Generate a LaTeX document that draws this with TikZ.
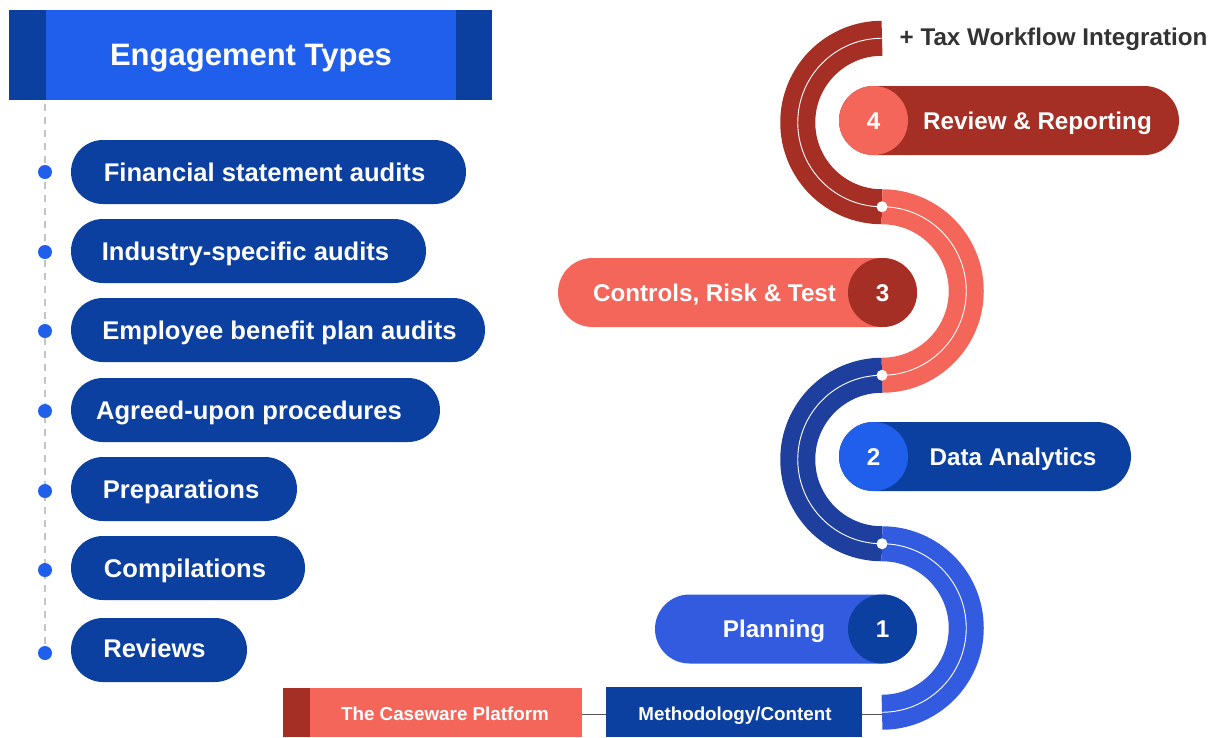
\documentclass[tikz,border=0pt]{standalone}
\usepackage{fontspec}
\setmainfont{Liberation Sans}
\definecolor{navy}{HTML}{0B40A0}
\definecolor{brightblue}{HTML}{1F5FEB}
\definecolor{snakenavy}{HTML}{1E3F9E}
\definecolor{midblue}{HTML}{325BE0}
\definecolor{darkred}{HTML}{A52F25}
\definecolor{salmon}{HTML}{F4655A}
\definecolor{ink}{HTML}{333333}
\definecolor{dashgray}{HTML}{C4C4C4}
\definecolor{linkgray}{HTML}{555555}
\begin{document}
\begin{tikzpicture}[x=1pt,y=-1pt,
  lbl/.style={inner sep=0pt, text height=18.3pt, text depth=0pt, text=white, font=\bfseries\fontsize{25.6}{30}\selectfont},
  lblH/.style={lbl, text height=22.2pt, font=\bfseries\fontsize{31}{36}\selectfont},
  lblR/.style={lbl, text height=17.3pt, font=\bfseries\fontsize{24.2}{29}\selectfont},
  lblS/.style={lbl, text height=13.5pt, font=\bfseries\fontsize{18.8}{22}\selectfont},
  pillL/.style={fill=navy, draw=none, rounded corners=32pt, minimum height=64pt, inner sep=0pt},
  pillR/.style={draw=none, rounded corners=34.5pt, minimum height=69pt, inner sep=0pt},
  numcirc/.style={circle, draw=none, minimum size=69pt, inner sep=0pt},
  bullet/.style={circle, fill=brightblue, minimum size=14pt, inner sep=0pt},
  band/.style={line width=35pt, line cap=butt},
  midline/.style={white, line width=0.9pt},
  joint/.style={circle, fill=white, minimum size=11pt, inner sep=0pt},
  link/.style={linkgray, line width=1pt},
  boxS/.style={draw=none, inner sep=0pt, minimum height=49pt}
]
\useasboundingbox (0,0) rectangle (1226,737);

% header
\fill[navy] (9,10) rectangle (492,100);
\fill[brightblue] (46,10) rectangle (456,100);
\node[lblH] (hdr) at (251,54.5) {Engagement Types};

% dashed timeline
\coordinate (dtop) at (45,104);
\coordinate (dbot) at (45,658);
\draw[dashgray, line width=1.6pt, dash pattern=on 7pt off 6pt] (dtop) -- (dbot);

% bullets
\foreach \y/\n in {172/1,252/2,331/3,411/4,491/5,570/6,653/7}
  \node[bullet] (b\n) at (45,\y) {};

% left pills
\node[pillL, minimum width=395pt] (p1) at (268.5,172) {};
\node[lbl] (t1) at (264.5,172) {Financial statement audits};
\node[pillL, minimum width=355pt] (p2) at (248.5,251) {};
\node[lbl] (t2) at (245.5,251) {Industry-specific audits};
\node[pillL, minimum width=414pt] (p3) at (278,330) {};
\node[lbl] (t3) at (279.5,330) {Employee benefit plan audits};
\node[pillL, minimum width=369pt] (p4) at (255.5,410) {};
\node[lbl] (t4) at (249,410) {Agreed-upon procedures};
\node[pillL, minimum width=226pt] (p5) at (184,489) {};
\node[lbl] (t5) at (181,489) {Preparations};
\node[pillL, minimum width=234pt] (p6) at (188,568) {};
\node[lbl] (t6) at (185,568) {Compilations};
\node[pillL, minimum width=176pt] (p7) at (159,650) {};
\node[lbl] (t7) at (154.5,648) {Reviews};

% snake
\coordinate (s0) at (882,38.25);
\coordinate (s1) at (882,206.75);
\coordinate (s2) at (882,375.25);
\coordinate (s3) at (882,543.75);
\coordinate (s4) at (882,712.25);
\draw[band, darkred] (s0) arc[start angle=90, end angle=270, radius=84.25pt];
\draw[band, salmon] (s1) arc[start angle=90, end angle=-90, radius=84.25pt];
\draw[band, snakenavy] (s2) arc[start angle=90, end angle=270, radius=84.25pt];
\draw[band, midblue] (s3) arc[start angle=90, end angle=-90, radius=84.25pt];
\draw[midline] (s0) arc[start angle=90, end angle=270, radius=84.25pt]
  arc[start angle=90, end angle=-90, radius=84.25pt]
  arc[start angle=90, end angle=270, radius=84.25pt]
  arc[start angle=90, end angle=-90, radius=84.25pt];
\node[joint] (j1) at (s1) {};
\node[joint] (j2) at (s2) {};
\node[joint] (j3) at (s3) {};

% top label
\node[lblR, text=ink] (tax) at (1053.5,37) {+ Tax Workflow Integration};

% step 4
\node[pillR, fill=darkred, minimum width=340pt] (r4) at (1009,120.5) {};
\node[numcirc, fill=salmon] (c4) at (873.5,120.5) {};
\node[lblR] (n4) at (c4) {4};
\node[lblR] (l4) at (1037.5,120.5) {Review \& Reporting};

% step 3
\node[pillR, fill=salmon, minimum width=359pt] (r3) at (737.5,292.5) {};
\node[numcirc, fill=darkred] (c3) at (882.5,292.5) {};
\node[lblR] (n3) at (c3) {3};
\node[lblR] (l3) at (714.5,292.5) {Controls, Risk \& Test};

% step 2
\node[pillR, fill=navy, minimum width=292pt] (r2) at (985,456.5) {};
\node[numcirc, fill=brightblue] (c2) at (873.5,456.5) {};
\node[lblR] (n2) at (c2) {2};
\node[lblR] (l2) at (1013,456.5) {Data Analytics};

% step 1
\node[pillR, fill=midblue, minimum width=262pt] (r1) at (786,629) {};
\node[numcirc, fill=navy] (c1) at (882.5,629) {};
\node[lblR] (n1) at (c1) {1};
\node[lblR] (l1) at (774,629) {Planning};

% bottom boxes
\node[boxS, fill=salmon, minimum width=299pt] (cw) at (432.5,712.5) {};
\fill[darkred] (283,688) rectangle (310,737);
\node[lblS] (cwt) at (445,714) {The Caseware Platform};
\node[boxS, fill=navy, minimum width=256pt, minimum height=50pt] (mc) at (734,712) {};
\node[lblS] (mct) at (735,714) {Methodology/Content};
\draw[link] (cw.east |- 0,714) -- (mc.west |- 0,714);
\draw[link] (mc.east |- 0,714) -- (s4 |- 0,714);
\end{tikzpicture}
\end{document}
